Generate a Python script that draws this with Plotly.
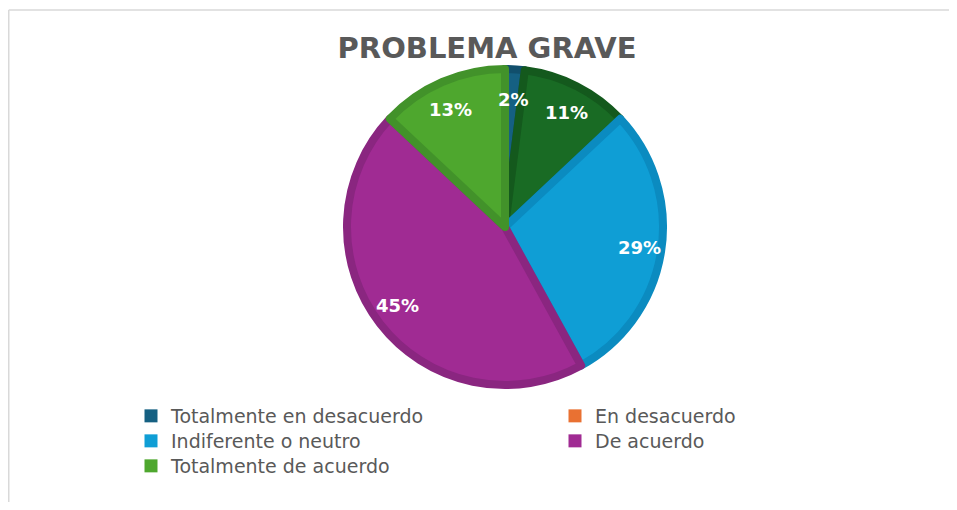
import numpy as np
import plotly.graph_objs as go

# --- datos ---
CATEGORIAS = ["Totalmente en desacuerdo", "En desacuerdo", "Indiferente o neutro",
              "De acuerdo", "Totalmente de acuerdo"]
PORCENTAJES = [2, 11, 29, 45, 13]

# colores de las porciones (la segunda sale verde oscuro en el original)
COLORES_PORCION = ["#156082", "#196B24", "#0F9ED5", "#A02B93", "#4EA72E"]
BORDES_PORCION = ["#114f6c", "#14591d", "#0b8bc0", "#8a2680", "#42922a"]
# colores de la leyenda
COLORES_LEYENDA = ["#156082", "#E97132", "#0F9ED5", "#A02B93", "#4EA72E"]

GRIS = "#595959"

# el body de la página tiene 8px de margen: se achica la figura para que no desborde
OFF = 8
W, H = 957 - 2 * OFF, 510 - 2 * OFF


def px(sx):
    return (sx - OFF) / W


def py(sy):
    return 1 - (sy - OFF) / H


# centro y radio del pastel (px de pantalla)
CX, CY, R = 505, 227, 158
# radios para ubicar las etiquetas (el original es algo ovalado)
ETQ_RX, ETQ_RY = 136, 128

fig = go.Figure()

fig.add_trace(go.Pie(
    labels=CATEGORIAS,
    values=PORCENTAJES,
    sort=False,
    direction="clockwise",
    rotation=0,
    showlegend=False,
    textinfo="none",
    marker=dict(colors=COLORES_PORCION, line=dict(color=BORDES_PORCION, width=8)),
    domain=dict(x=[px(CX - R), px(CX + R)], y=[py(CY + R), py(CY - R)]),
    hoverinfo="label+percent",
))

# etiquetas de porcentaje en el ángulo medio de cada porción
acum = np.cumsum(PORCENTAJES) - np.array(PORCENTAJES) / 2
ang = np.deg2rad(acum / sum(PORCENTAJES) * 360)
etiquetas = []
for a, v in zip(ang, PORCENTAJES):
    etiquetas.append(dict(
        x=px(CX + ETQ_RX * np.sin(a)), y=py(CY - ETQ_RY * np.cos(a)),
        xref="paper", yref="paper", xanchor="center", yanchor="middle",
        showarrow=False,
        text=f"{v}%",
        font=dict(family="DejaVu Sans", size=18, color="white", weight="bold"),
    ))

# leyenda en dos columnas, una leyenda por entrada
COL_X = [131, 555, 131, 555, 131]
FILA_Y = [397, 397, 422, 422, 447]
layout_leyendas = {}
for i, (nombre, color) in enumerate(zip(CATEGORIAS, COLORES_LEYENDA)):
    clave = "legend" if i == 0 else f"legend{i + 1}"
    fig.add_trace(go.Scatter(
        x=[None], y=[None], mode="markers", name=nombre, legend=clave,
        marker=dict(symbol="square", size=13, color=color),
    ))
    layout_leyendas[clave] = dict(
        x=px(COL_X[i]), y=py(FILA_Y[i]), xanchor="left", yanchor="top",
        font=dict(family="DejaVu Sans", size=19, color=GRIS),
        bgcolor="rgba(0,0,0,0)",
    )

# marco del gráfico: solo se ven el borde superior y el izquierdo
marco = dict(color="#D9D9D9", width=1.5)

fig.update_layout(
    width=W, height=H,
    margin=dict(l=0, r=0, t=0, b=0),
    paper_bgcolor="white",
    plot_bgcolor="white",
    xaxis=dict(visible=False),
    yaxis=dict(visible=False),
    title=dict(
        text="PROBLEMA GRAVE",
        x=px(487), xanchor="center",
        y=py(48), yanchor="middle",
        font=dict(family="DejaVu Sans", size=29, color=GRIS, weight="bold"),
    ),
    annotations=etiquetas,
    shapes=[
        dict(type="line", xref="paper", yref="paper",
             x0=0.75 / W, x1=1.3, y0=py(10), y1=py(10), line=marco),
        dict(type="line", xref="paper", yref="paper",
             x0=0.75 / W, x1=0.75 / W, y0=-0.3, y1=py(10), line=marco),
    ],
    **layout_leyendas,
)

fig.write_html("out.html")
